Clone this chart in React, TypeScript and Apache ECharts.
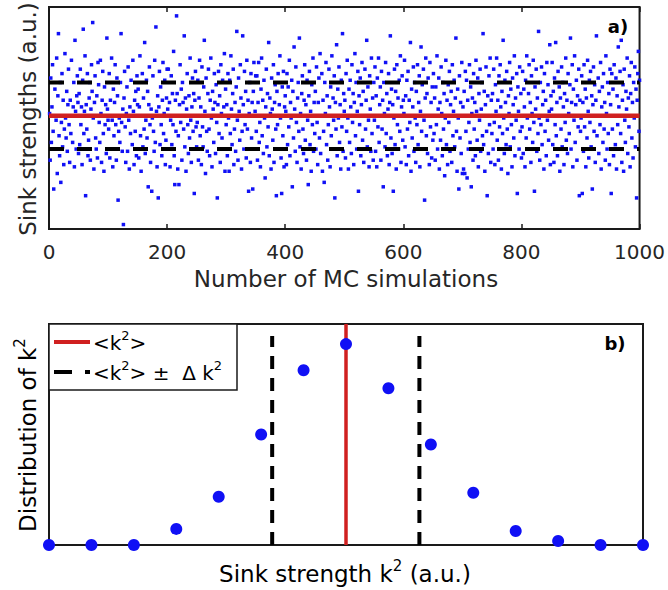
import React, { useEffect, useRef } from "react";
import * as echarts from "echarts";

// ---- Panel a) : sink strength of each MC simulation (value x10, a.u.) ----
const simCount = 1000;
const sinkTenths = [
  52,31,68,39,55,74,44,18,51,63,36,49,77,25,60,88,42,33,66,21,48,70,37,58,29,45,79,50,41,62,35,56,72,47,30,58,43,76,51,39,55,66,28,85,53,36,60,69,57,34,
  61,38,72,47,55,29,67,90,43,53,78,15,56,45,70,33,40,59,66,31,54,74,62,93,50,27,57,69,41,36,60,32,75,65,48,39,76,52,30,58,71,43,26,64,47,56,34,86,54,49,
  45,70,32,58,36,77,49,28,63,42,57,74,47,31,68,60,13,44,50,39,66,88,48,35,54,2,59,71,46,30,52,64,35,73,49,27,55,43,67,51,38,76,53,29,58,44,62,33,69,56,
  63,32,55,78,42,26,51,70,37,59,45,84,34,49,67,41,62,19,56,73,47,30,54,17,50,69,44,35,76,39,91,53,28,60,14,55,71,38,64,47,33,58,75,43,52,67,29,40,59,72,
  54,72,36,57,28,49,69,38,61,47,80,33,20,58,44,96,61,27,42,20,56,74,48,63,31,66,57,45,87,37,59,26,54,70,47,34,60,41,77,49,30,55,68,44,61,16,58,71,46,37,
  48,67,31,59,76,42,55,29,73,46,37,64,85,53,25,68,44,35,61,72,45,33,58,77,50,28,62,54,39,70,57,34,65,48,14,56,71,43,60,30,74,52,41,67,36,55,79,26,63,47,
  56,33,70,50,26,67,43,78,54,38,61,72,29,45,57,35,64,89,49,31,68,53,40,74,59,27,44,87,56,36,71,47,62,32,76,45,58,17,52,66,30,70,41,57,18,62,75,36,53,69,
  44,69,31,57,75,39,48,28,63,77,42,58,34,67,50,23,55,72,37,61,46,84,33,59,52,27,68,54,40,74,30,57,65,45,15,62,47,70,36,56,78,50,32,16,64,42,71,28,55,60,
  53,29,70,38,64,46,76,33,57,50,67,19,62,41,82,54,35,73,48,30,59,66,44,86,37,52,27,61,69,45,34,58,74,40,56,31,67,49,20,60,71,38,53,26,65,47,77,35,57,43,
  62,36,73,48,29,57,68,41,79,34,51,70,26,58,44,21,66,52,75,38,60,31,47,72,55,28,64,42,78,36,59,49,69,14,57,45,83,33,63,50,73,39,56,27,67,46,88,35,61,53,
  58,32,70,44,76,50,27,63,39,67,55,34,74,48,61,29,57,79,42,66,36,53,71,17,60,47,68,33,56,75,40,62,30,51,72,45,58,85,37,64,49,28,69,54,35,77,43,59,31,66,
  49,73,35,60,28,68,46,77,39,56,64,31,71,45,58,19,66,52,37,75,43,61,33,54,70,29,57,87,41,63,34,56,17,50,72,38,62,27,74,47,59,36,67,44,78,30,55,69,40,58,
  52,76,37,60,29,67,45,71,33,58,48,84,26,63,41,55,73,35,66,50,30,62,47,74,38,57,69,28,53,82,44,65,36,72,49,13,59,77,42,61,34,68,51,29,75,46,57,32,64,40,
  70,43,59,31,64,47,78,36,54,68,27,57,40,73,52,33,66,45,61,24,50,76,38,58,29,65,48,71,35,56,62,30,74,42,53,67,37,59,86,44,26,63,50,18,69,41,57,34,75,25,
  55,27,62,25,71,44,67,23,58,36,48,74,39,64,19,52,59,31,70,45,57,33,76,53,40,68,28,61,49,72,35,54,66,42,88,38,62,26,56,73,44,15,60,34,69,47,77,30,58,43,
  61,36,72,48,29,65,53,77,40,58,31,69,46,74,55,27,62,43,85,50,34,67,57,38,71,45,25,60,52,75,37,63,47,28,68,56,41,78,33,59,49,70,16,64,53,36,73,44,61,32,
  46,71,34,63,55,28,67,41,78,50,36,61,74,45,57,30,69,52,39,76,48,17,64,54,72,35,59,43,89,50,31,66,47,73,38,56,62,27,70,44,58,33,75,49,65,40,53,83,29,60,
  54,75,38,62,30,68,47,84,42,57,33,71,51,64,26,59,45,73,37,66,55,29,61,48,77,40,58,34,70,52,43,65,86,36,57,74,28,63,49,78,39,56,67,31,60,46,72,15,58,44,
  50,69,16,57,35,74,46,63,28,59,41,76,53,32,67,48,71,37,60,18,56,73,44,65,30,58,87,42,51,68,34,62,47,75,27,55,64,39,70,45,57,31,78,52,36,66,43,61,29,72,
  56,16,70,45,63,33,74,51,38,68,27,60,47,82,55,36,71,43,85,30,58,65,26,72,49,39,62,54,77,34,59,46,69,28,61,75,41,57,32,66,50,73,37,63,14,58,70,80,44,67,
];
const meanK = 5.1;
const deltaK = 1.5;
const simTickInterval = 200;

// ---- Panel b) : distribution of k^2 ----
const distBins = [0, 1, 2, 3, 4, 5, 6, 7, 8, 9, 10, 11, 12, 13, 14];
const distValues = [0, 0, 0, 0.08, 0.24, 0.55, 0.87, 1.0, 0.78, 0.5, 0.26, 0.07, 0.02, 0, 0];
const distMeanBin = 7;
const distLowBin = 5.26;
const distHighBin = 8.73;

const FONT = "DejaVu Sans";
const RED = "#d02020";
const BLUE = "#1010f5";
const INK = "#1a1a1a";
const TXT = "#262626";

export default function App() {
  const ref = useRef<HTMLDivElement>(null);
  useEffect(() => {
    const chart = echarts.init(ref.current!, null, { renderer: "svg" });
    const scatterData = sinkTenths.map((v, i) => [i + 1, v / 10]);
    const distData = distBins.map((b, i) => [b, distValues[i]]);
    const richTitle = {
      b: { fontSize: 23, fontFamily: FONT, color: TXT, lineHeight: 32 },
      s: { fontSize: 15, fontFamily: FONT, color: TXT, lineHeight: 15, verticalAlign: "top" as const },
    };
    const richLegend = {
      b: { fontSize: 20, fontFamily: FONT, color: INK, lineHeight: 28 },
      s: { fontSize: 13, fontFamily: FONT, color: INK, lineHeight: 13, verticalAlign: "top" as const },
    };
    chart.setOption({
      animation: false,
      grid: [
        { left: 49, top: 7, width: 594, height: 222, show: true, borderColor: INK, borderWidth: 2, backgroundColor: "transparent" },
        { left: 49, top: 324, width: 594, height: 221, show: true, borderColor: INK, borderWidth: 2, backgroundColor: "transparent" },
      ],
      xAxis: [
        {
          gridIndex: 0, type: "value", min: 0, max: simCount, interval: simTickInterval,
          axisLine: { show: false },
          axisTick: { show: true, inside: true, length: 5, lineStyle: { color: INK, width: 1.5 } },
          splitLine: { show: false },
          axisLabel: { fontSize: 20, fontFamily: FONT, color: TXT, margin: 13, formatter: (v: number) => String(v) },
        },
        {
          gridIndex: 0, type: "value", position: "top", min: 0, max: simCount, interval: simTickInterval,
          axisLine: { show: false },
          axisTick: { show: true, inside: true, length: 5, lineStyle: { color: INK, width: 1.5 } },
          splitLine: { show: false },
          axisLabel: { show: false },
        },
        { gridIndex: 1, type: "value", min: 0, max: 14, show: false },
      ],
      yAxis: [
        { gridIndex: 0, type: "value", min: 0, max: 10, show: false },
        { gridIndex: 1, type: "value", min: 0, max: 1.1, show: false },
      ],
      series: [
        {
          type: "scatter", xAxisIndex: 0, yAxisIndex: 0, data: scatterData,
          symbol: "rect", symbolSize: 3.5, itemStyle: { color: BLUE, opacity: 1 }, z: 2, silent: true,
        },
        {
          type: "line", xAxisIndex: 0, yAxisIndex: 0, data: [[0, meanK], [simCount, meanK]],
          symbol: "none", lineStyle: { color: RED, width: 4.5 }, z: 3, silent: true,
        },
        {
          type: "line", xAxisIndex: 0, yAxisIndex: 0, data: [[0, meanK + deltaK], [simCount, meanK + deltaK]],
          symbol: "none", lineStyle: { color: "#000", width: 4, type: [15, 13] }, z: 3, silent: true,
        },
        {
          type: "line", xAxisIndex: 0, yAxisIndex: 0, data: [[0, meanK - deltaK], [simCount, meanK - deltaK]],
          symbol: "none", lineStyle: { color: "#000", width: 4, type: [15, 13] }, z: 3, silent: true,
        },
        {
          type: "line", xAxisIndex: 2, yAxisIndex: 1, data: [[distMeanBin, 0], [distMeanBin, 1.1]],
          symbol: "none", lineStyle: { color: RED, width: 3.5 }, z: 3, silent: true,
        },
        {
          type: "line", xAxisIndex: 2, yAxisIndex: 1, data: [[distLowBin, 0], [distLowBin, 1.04]],
          symbol: "none", lineStyle: { color: "#000", width: 4, type: [13, 9] }, z: 3, silent: true,
        },
        {
          type: "line", xAxisIndex: 2, yAxisIndex: 1, data: [[distHighBin, 0], [distHighBin, 1.04]],
          symbol: "none", lineStyle: { color: "#000", width: 4, type: [13, 9] }, z: 3, silent: true,
        },
        {
          type: "scatter", xAxisIndex: 2, yAxisIndex: 1, data: distData, clip: false,
          symbol: "circle", symbolSize: 12, itemStyle: { color: BLUE, opacity: 1 }, z: 4, silent: true,
        },
      ],
      graphic: [
        {
          type: "text", x: 346, y: 279, z: 10,
          style: { text: "Number of MC simulations", fontSize: 23, fontFamily: FONT, fill: TXT, align: "center", verticalAlign: "middle" },
        },
        {
          type: "text", x: 28, y: 119, rotation: Math.PI / 2, z: 10,
          style: { text: "Sink strengths (a.u.)", fontSize: 23, fontFamily: FONT, fill: TXT, align: "center", verticalAlign: "middle" },
        },
        {
          type: "text", x: 618, y: 26, z: 10,
          style: { text: "a)", fontSize: 18, fontWeight: "bold", fontFamily: FONT, fill: "#000", align: "center", verticalAlign: "middle" },
        },
        {
          type: "text", x: 615, y: 343, z: 10,
          style: { text: "b)", fontSize: 18, fontWeight: "bold", fontFamily: FONT, fill: "#000", align: "center", verticalAlign: "middle" },
        },
        {
          type: "text", x: 345, y: 574, z: 10,
          style: { text: "{b|Sink strength k}{s|2}{b| (a.u.)}", align: "center", verticalAlign: "middle", rich: richTitle },
        },
        {
          type: "text", x: 28, y: 435, rotation: Math.PI / 2, z: 10,
          style: { text: "{b|Distribution of k}{s|2}", align: "center", verticalAlign: "middle", rich: richTitle },
        },
        {
          type: "rect", z: 10,
          shape: { x: 49, y: 324, width: 188, height: 66 },
          style: { fill: "#fff", stroke: INK, lineWidth: 1.5 },
        },
        {
          type: "line", z: 11,
          shape: { x1: 54, y1: 342, x2: 90, y2: 342 },
          style: { stroke: RED, lineWidth: 4 },
        },
        {
          type: "line", z: 11,
          shape: { x1: 54, y1: 372, x2: 90, y2: 372 },
          style: { stroke: "#000", lineWidth: 4, lineDash: [18, 13] },
        },
        {
          type: "text", x: 93, y: 343, z: 11,
          style: { text: "{b|<k}{s|2}{b|>}", align: "left", verticalAlign: "middle", rich: richLegend },
        },
        {
          type: "text", x: 93, y: 373, z: 11,
          style: { text: "{b|<k}{s|2}{b|> ±  Δ k}{s|2}", align: "left", verticalAlign: "middle", rich: richLegend },
        },
      ],
    });
    return () => chart.dispose();
  }, []);
  return <div ref={ref} style={{ position: "absolute", left: 0, top: 0, width: 668, height: 590 }} />;
}
